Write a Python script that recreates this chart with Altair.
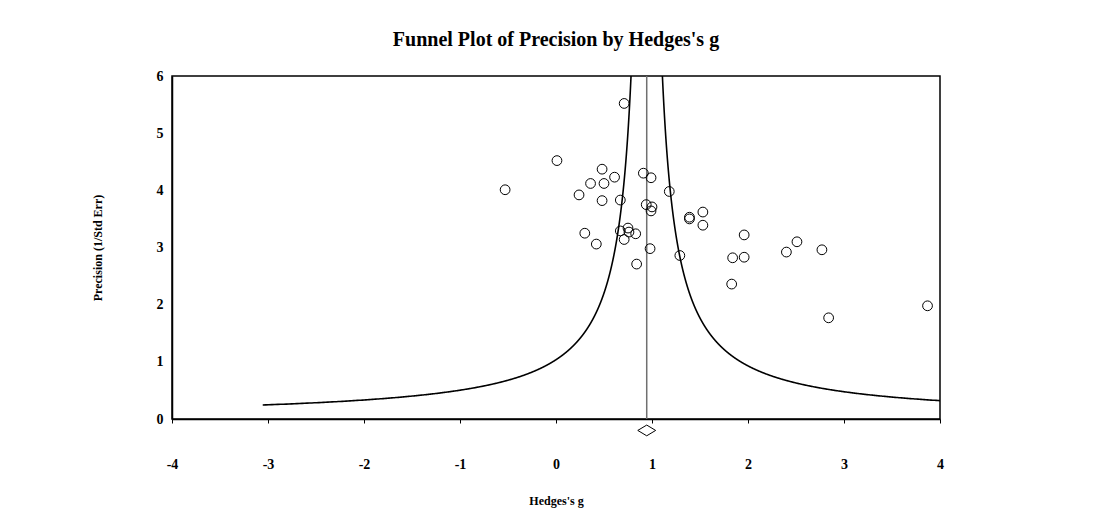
import altair as alt
import pandas as pd

# Study effect sizes (Hedges's g) and precision (1/SE)
hedges_g = [0.71, 0.01, -0.53, 0.48, 0.61, 0.36, 0.50, 0.24, 0.48, 0.67,
            0.91, 0.99, 1.18, 0.94, 1.00, 0.99, 1.39, 1.39, 1.53, 1.53,
            0.30, 0.42, 0.67, 0.75, 0.76, 0.83, 0.71, 0.98, 1.29, 0.84,
            1.84, 1.96, 2.40, 2.77, 1.83, 2.84, 3.87, 1.96, 2.51]
precision = [5.52, 4.52, 4.01, 4.37, 4.23, 4.12, 4.12, 3.92, 3.82, 3.83,
             4.30, 4.22, 3.98, 3.75, 3.71, 3.64, 3.53, 3.50, 3.62, 3.39,
             3.25, 3.06, 3.29, 3.34, 3.27, 3.24, 3.14, 2.98, 2.86, 2.71,
             2.82, 2.83, 2.92, 2.96, 2.36, 1.77, 1.98, 3.22, 3.10]

summary_g = [0.945]          # combined effect
summary_pos = [-0.2]         # diamond drawn just below the axis
funnel_k = 0.98              # funnel half-width constant (g units * precision)
funnel_pmin = 0.245

x_ticks = [-4, -3, -2, -1, 0, 1, 2, 3, 4]
y_ticks = [0, 1, 2, 3, 4, 5, 6]

FONT = "Liberation Serif"

pts = pd.DataFrame({"g": hedges_g, "p": precision})
summ = pd.DataFrame({"g": summary_g, "p": summary_pos})

xscale = alt.Scale(domain=[-4, 4], nice=False, zero=False)
yscale = alt.Scale(domain=[0, 6], nice=False, zero=False)

common = dict(grid=False, domainColor="black", domainWidth=1.5,
              labelFont=FONT, titleFont=FONT, labelFontWeight="bold",
              titleFontWeight="bold", labelColor="black", titleColor="black",
              labelFlush=False,
              labelExpr="datum.value < 0 ? '-' + abs(datum.value) : '' + datum.value")

xaxis = alt.Axis(values=x_ticks, title="Hedges's g", tickSize=4,
                 tickColor="black", tickWidth=1, labelPadding=34,
                 titlePadding=24, labelFontSize=14, titleFontSize=12, **common)
yaxis = alt.Axis(values=y_ticks, title="Precision (1/Std Err)",
                 ticks=False, labelPadding=9,
                 titlePadding=52, labelFontSize=14, titleFontSize=12, **common)

base_x = alt.X("g:Q", scale=xscale, axis=xaxis)
base_y = alt.Y("p:Q", scale=yscale, axis=yaxis)

funnel = (
    alt.Chart(alt.sequence(start=funnel_pmin, stop=8.0, step=0.002, as_="p"))
    .transform_calculate(left=f"{summary_g[0]} - {funnel_k} / datum.p",
                         right=f"{summary_g[0]} + {funnel_k} / datum.p")
    .transform_fold(["left", "right"], as_=["side", "g"])
    .mark_line(color="black", strokeWidth=1.6, clip=True)
    .encode(x=base_x, y=base_y, detail="side:N", order="p:Q")
)

mean_line = (
    alt.Chart(summ)
    .mark_rule(color="#707070", strokeWidth=1.5)
    .encode(x=base_x, y=alt.datum(0), y2=alt.datum(6))
)

points = (
    alt.Chart(pts)
    .mark_point(shape="circle", filled=False, color="black", size=95,
                strokeWidth=1, opacity=1)
    .encode(x=base_x, y=base_y)
)

diamond = (
    alt.Chart(summ)
    .mark_point(shape="M -1 0 L 0 -0.6 L 1 0 L 0 0.6 Z", filled=False,
                color="black", size=320, strokeWidth=1, opacity=1, clip=False)
    .encode(x=base_x, y=base_y)
)

chart = (
    alt.layer(funnel, mean_line, points, diamond)
    .properties(
        width=768, height=343,
        title=alt.TitleParams("Funnel Plot of Precision by Hedges's g",
                              font=FONT, fontSize=20, fontWeight="bold",
                              color="black", anchor="middle", offset=19),
        autosize=alt.AutoSizeParams(type="none"),
        padding={"left": 164, "top": 68, "right": 140, "bottom": 100},
        view=alt.ViewBackground(stroke="black", strokeWidth=1.5, strokeOpacity=1),
    )
    .configure_view(stroke="black", strokeWidth=1.5, strokeOpacity=1)
    .configure(background="white")
)

chart.save("out.html", embed_options={"renderer": "svg", "actions": False})
